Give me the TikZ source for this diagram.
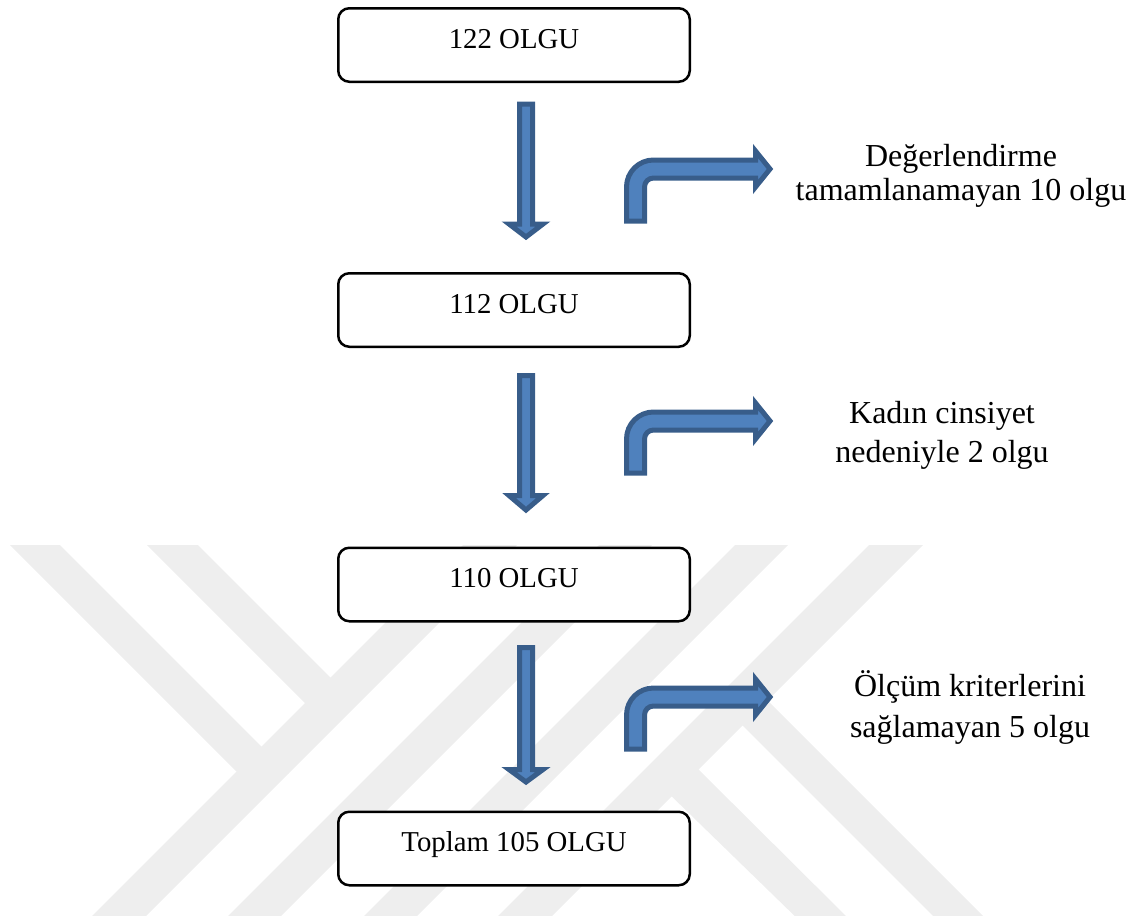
\documentclass[tikz,border=0pt]{standalone}
\usepackage{fontspec}
\setmainfont{Liberation Serif}
\definecolor{arrowfill}{HTML}{4F81BD}
\definecolor{arrowedge}{HTML}{385D8A}
\definecolor{wmgray}{HTML}{EEEEEE}
\newcommand\boxfont{\fontsize{28.8pt}{34pt}\selectfont}
\newcommand\sidefont[1]{\fontsize{32pt}{#1pt}\selectfont}
% block arrow pointing down: #1 top y, #2 head base y, #3 tip y
\newcommand\blockdown[3]{%
  \draw[blockarrow] (519.5,#1) -- (532.5,#1) -- (532.5,#2) -- (543,#2) -- (526,#3)
    -- (509,#2) -- (519.5,#2) -- cycle;}
% bent block arrow: #1 = y of the head tip
\newcommand\bentarr[1]{%
  \draw[blockarrow] (626.5,#1+52) -- (626.5,#1+18)
    .. controls (626.5,#1+3.1) and (638.6,#1-9) .. (653.5,#1-9)
    -- (755.5,#1-9) -- (755.5,#1-18) -- (770,#1) -- (755.5,#1+18) -- (755.5,#1+9)
    -- (653.5,#1+9) .. controls (648.53,#1+9) and (644.5,#1+13.03) .. (644.5,#1+18)
    -- (644.5,#1+52) -- cycle;}
\tikzset{
  box/.style={draw=black, line width=2.5pt, rounded corners=11pt, fill=white,
    minimum width=351.5pt, minimum height=73.5pt, inner sep=0pt,
    text height=20pt, text depth=14pt, font=\boxfont},
  blockarrow/.style={draw=arrowedge, fill=arrowfill, line width=5pt, line join=miter},
  wm/.style={fill=wmgray, draw=none},
  side/.style={align=center, anchor=base, inner sep=0pt}
}
\begin{document}
\begin{tikzpicture}[x=1pt,y=-1pt]
\useasboundingbox (0,0) rectangle (1142,918);
% watermark
\begin{scope}
  \clip (0,545) rectangle (1142,915);
  \fill[wm] (10,545) -- (60,545) -- (288.5,773.5) -- (236.5,771.5) -- cycle;
  \fill[wm] (147,545) -- (198,545) -- (344,691) -- (318.5,716.5) -- cycle;
  \fill[wm] (463,545) -- (517,545) -- (144,918) -- (90,918) -- cycle;
  \fill[wm] (599,545) -- (652,545) -- (279,918) -- (226,918) -- cycle;
  \fill[wm] (735,545) -- (788,545) -- (415,918) -- (362,918) -- cycle;
  \fill[wm] (869,545) -- (923,545) -- (550,918) -- (496,918) -- cycle;
  \fill[wm] (715,698) -- (767,700) -- (993.5,926.5) -- (943.5,926.5) -- cycle;
  \fill[wm] (662,787) -- (690,761) -- (856.5,926.5) -- (805.5,926.5) -- cycle;
\end{scope}
% boxes
\node[box] (b1) at (514,45) {122 OLGU};
\node[box] (b2) at (514,310) {112 OLGU};
\node[box] (b3) at (514,584.5) {110 OLGU};
\node[box] (b4) at (514,848.5) {Toplam 105 OLGU};
% down arrows
\blockdown{104}{224}{237}
\blockdown{375.5}{495.5}{510}
\blockdown{647.5}{769.5}{782}
% bent arrows
\bentarr{169}
\bentarr{421}
\bentarr{697}
% side labels (base anchor = baseline of the last line)
\node[side, font=\sidefont{34}] (s1) at (961,200) {Değerlendirme\\tamamlanamayan 10 olgu};
\node[side, font=\sidefont{39}] (s2) at (942,462) {Kadın cinsiyet\\nedeniyle 2 olgu};
\node[side, font=\sidefont{41}] (s3) at (970,737) {Ölçüm kriterlerini\\sağlamayan 5 olgu};
\end{tikzpicture}
\end{document}
